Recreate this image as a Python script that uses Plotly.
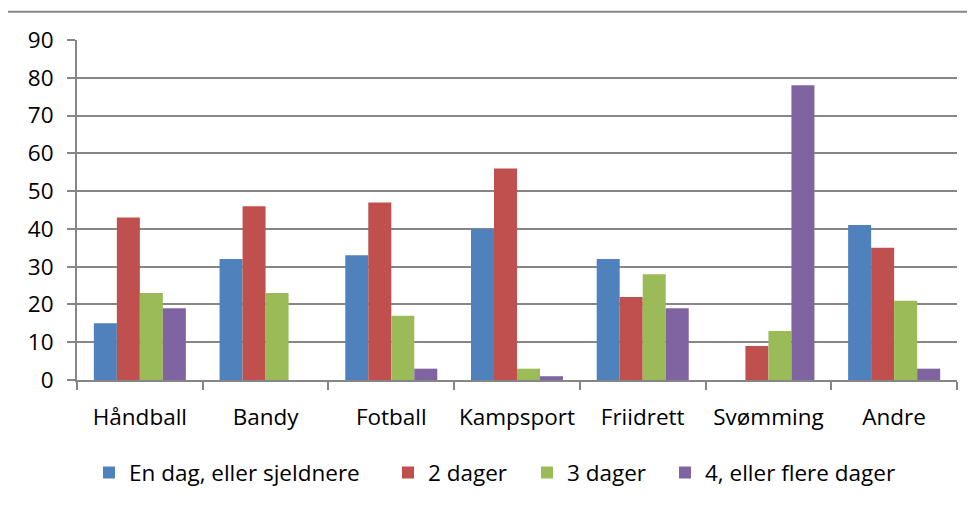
import plotly.graph_objects as go

# --------------------------------------------------------------------------------------------
# Data
categories = ["Håndball", "Bandy", "Fotball", "Kampsport", "Friidrett", "Svømming", "Andre"]

en_dag   = [15, 32, 33, 40, 32, 0, 41]
to_dager = [43, 46, 47, 56, 22, 9, 35]
tre_dager = [23, 23, 17, 3, 28, 13, 21]
fire_dager = [19, 0, 3, 1, 19, 78, 3]

series_names = ["En dag, eller sjeldnere", "2 dager", "3 dager", "4, eller flere dager"]
series_values = [en_dag, to_dager, tre_dager, fire_dager]

y_ticks = [0, 10, 20, 30, 40, 50, 60, 70, 80, 90]

# --------------------------------------------------------------------------------------------
_colors = ["#4F81BD", "#C0504D", "#9BBB59", "#8064A2"]
_grey = "#868686"
_font = "Open Sans"
_fsize = 22.5

# the page body has an 8px margin, so everything below is in figure pixels (page - 8)
_OFF = 8
_W, _H = 975 - _OFF, 505 - _OFF
_L, _R, _T, _B = 77 - _OFF, 957 - _OFF, 39.5 - _OFF, 381 - _OFF


def _px_x(px):
    """page pixel -> paper x"""
    return (px - _OFF - _L) / (_R - _L)


def _px_y(py):
    """page pixel -> paper y"""
    return (_B - (py - _OFF)) / (_B - _T)


# page x of each legend box (square starts ~15px in)
legend_x_px = [89, 388, 527, 665]

fig = go.Figure()
for i, (name, vals) in enumerate(zip(series_names, series_values)):
    fig.add_trace(go.Bar(x=categories, y=vals, name=name, marker_color=_colors[i],
                         marker_line_width=0,
                         legend="legend" if i == 0 else "legend%d" % (i + 1)))

legend_common = dict(orientation="h", yanchor="middle", y=_px_y(473), xanchor="left",
                     font=dict(family=_font, size=_fsize, color="#000000"),
                     bgcolor="rgba(0,0,0,0)", borderwidth=0)

layout_legends = {}
for i, lx in enumerate(legend_x_px):
    key = "legend" if i == 0 else "legend%d" % (i + 1)
    layout_legends[key] = dict(legend_common, x=_px_x(lx))

fig.update_layout(
    width=_W, height=_H,
    autosize=False,
    margin=dict(l=_L, r=_W - _R, t=_T, b=_H - _B, pad=0),
    plot_bgcolor="white", paper_bgcolor="white",
    font=dict(family=_font, size=_fsize, color="#000000"),
    barmode="group", bargap=0.268, bargroupgap=0,
    showlegend=True,
    **layout_legends
)

fig.update_xaxes(showline=True, linecolor=_grey, linewidth=2, tickangle=0,
                 ticks="outside", tickson="boundaries", ticklen=8, tickwidth=2, tickcolor=_grey,
                 showgrid=False, ticklabelstandoff=16)

fig.update_yaxes(range=[0, 90], tickvals=y_ticks, showline=True, linecolor=_grey, linewidth=2,
                 ticks="outside", ticklen=8, tickwidth=2, tickcolor=_grey,
                 showgrid=True, gridcolor=_grey, gridwidth=2, zeroline=False,
                 ticklabelstandoff=9)

# top border of the chart frame
fig.add_shape(type="line", xref="paper", yref="paper",
              x0=_px_x(8), x1=_px_x(975), y0=_px_y(11), y1=_px_y(11),
              line=dict(color=_grey, width=2))

fig.write_html("out.html")
